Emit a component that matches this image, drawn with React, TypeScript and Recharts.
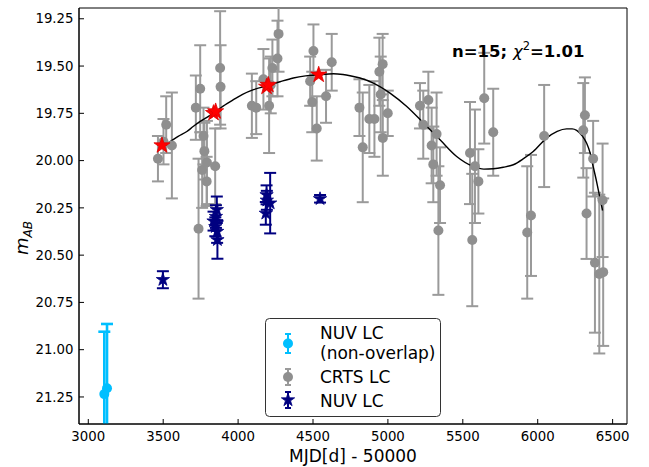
import React from 'react';
import { ComposedChart, Scatter, Line, XAxis, YAxis, ErrorBar, ReferenceArea } from 'recharts';

// CRTS light curve (gray)
const crtsMjd = [3465, 3502, 3520, 3558, 3718, 3747, 3736, 3769, 3775, 3760, 3792, 3790, 3847, 3880, 3883, 4092, 4121, 4169, 4207, 4218, 4229, 4263, 4270, 4481, 4503, 4495, 4525, 4587, 4625, 4810, 4832, 4876, 4910, 4943, 4965, 4952, 4966, 4999, 5214, 5236, 5270, 5292, 5303, 5325, 5348, 5337, 5548, 5581, 5604, 5563, 5643, 5703, 5930, 5955, 6043, 6304, 6315, 6326, 6370, 6382, 6411, 6433, 6437];
const crtsMag = [19.99, 19.90, 19.81, 19.92, 19.72, 19.62, 20.36, 19.87, 19.95, 20.05, 20.01, 20.11, 20.03, 19.51, 19.61, 19.71, 19.72, 19.57, 19.71, 19.60, 19.51, 19.46, 19.33, 19.58, 19.42, 19.69, 19.83, 19.66, 19.48, 19.72, 19.93, 19.78, 19.78, 19.53, 19.49, 19.65, 19.88, 19.75, 19.71, 19.81, 19.68, 19.92, 20.02, 19.86, 20.13, 20.37, 19.96, 20.03, 20.11, 20.42, 19.67, 19.85, 20.38, 20.29, 19.87, 19.84, 19.76, 20.28, 19.99, 20.54, 20.60, 20.21, 20.59];
const crtsErr = [0.12, 0.12, 0.15, 0.28, 0.17, 0.23, 0.37, 0.15, 0.15, 0.2, 0.22, 0.13, 0.2, 0.30, 0.22, 0.17, 0.14, 0.16, 0.25, 0.15, 0.15, 0.2, 0.2, 0.13, 0.14, 0.16, 0.17, 0.14, 0.15, 0.15, 0.29, 0.18, 0.2, 0.18, 0.16, 0.2, 0.2, 0.12, 0.12, 0.18, 0.15, 0.2, 0.2, 0.22, 0.2, 0.34, 0.27, 0.3, 0.17, 0.35, 0.24, 0.23, 0.35, 0.32, 0.27, 0.25, 0.2, 0.24, 0.2, 0.37, 0.42, 0.3, 0.39];

// NUV light curve (navy stars)
const nuvMjd = [3498, 3836, 3848, 3858, 3852, 3860, 3862, 4185, 4190, 4192, 4214, 4547];
const nuvMag = [20.63, 20.32, 20.35, 20.26, 20.296, 20.375, 20.419, 20.279, 20.181, 20.21, 20.225, 20.202];
const nuvErr = [0.045, 0.05, 0.05, 0.07, 0.06, 0.06, 0.1, 0.06, 0.05, 0.05, 0.16, 0.02];

// NUV non-overlap (cyan)
const nonMjd = [3107, 3125];
const nonMag = [21.235, 21.204];
const nonErr = [0.33, 0.34];

// binned points used for the fit (red stars)
const binMjd = [3492, 3836, 3850, 4190, 4202, 4538];
const binMag = [19.92, 19.749, 19.74, 19.61, 19.60, 19.546];

// fitted curve
const fitMjd = [3490, 3547, 3600, 3658, 3700, 3747, 3800, 3836, 3900, 3969, 4030, 4103, 4196, 4280, 4369, 4450, 4538, 4636, 4700, 4747, 4814, 4903, 5014, 5126, 5237, 5348, 5459, 5570, 5640, 5703, 5770, 5837, 5905, 5970, 6059, 6130, 6193, 6230, 6260, 6300, 6326, 6350, 6370, 6390, 6404, 6420, 6433];
const fitMag = [19.924, 19.899, 19.872, 19.846, 19.82, 19.793, 19.767, 19.749, 19.712, 19.678, 19.65, 19.625, 19.604, 19.583, 19.563, 19.552, 19.546, 19.541, 19.545, 19.551, 19.563, 19.59, 19.643, 19.714, 19.801, 19.89, 19.978, 20.031, 20.045, 20.043, 20.035, 20.022, 19.99, 19.952, 19.881, 19.845, 19.832, 19.832, 19.84, 19.872, 19.907, 19.96, 20.031, 20.1, 20.154, 20.215, 20.264];

const xTicks = [3000, 3500, 4000, 4500, 5000, 5500, 6000, 6500];
const yTicks = [19.25, 19.5, 19.75, 20.0, 20.25, 20.5, 20.75, 21.0, 21.25];

const X_DOMAIN: [number, number] = [2938, 6596];
const Y_DOMAIN: [number, number] = [19.193, 21.393];

const crtsData = crtsMjd.map((x, i) => ({ x, y: crtsMag[i], err: crtsErr[i] }));
const nuvData = nuvMjd.map((x, i) => ({ x, y: nuvMag[i], err: nuvErr[i] }));
const nonData = nonMjd.map((x, i) => ({ x, y: nonMag[i], err: nonErr[i] }));
const binData = binMjd.map((x, i) => ({ x, y: binMag[i] }));
const fitData = fitMjd.map((x, i) => ({ x, y: fitMag[i] }));

function starPath(cx: number, cy: number, R: number) {
  const r = R * 0.382;
  let d = '';
  for (let i = 0; i < 10; i++) {
    const ang = -Math.PI / 2 + (i * Math.PI) / 5;
    const rad = i % 2 === 0 ? R : r;
    d += (i === 0 ? 'M' : 'L') + (cx + rad * Math.cos(ang)).toFixed(2) + ',' + (cy + rad * Math.sin(ang)).toFixed(2);
  }
  return d + 'Z';
}

const FONT = '"DejaVu Sans", sans-serif';

// layout (plot area) used for margins and for clipping error bars
const W = 649;
const H = 467;
const M = { top: 8, right: 22, bottom: 0, left: 0 };
const Y_AXIS_W = 79;
const X_AXIS_H = 43;
const PLOT = { x: M.left + Y_AXIS_W, y: M.top, w: W - M.left - Y_AXIS_W - M.right, h: H - M.top - M.bottom - X_AXIS_H };

const GrayDot = (p: any) => <circle cx={p.cx} cy={p.cy} r={5} fill="#8f8f8f" />;
const CyanDot = (p: any) => <circle cx={p.cx} cy={p.cy} r={5} fill="#00bfff" />;
const NavyStar = (p: any) => <path d={starPath(p.cx, p.cy, 7)} fill="#000080" stroke="#000080" strokeWidth={0.8} />;
const RedStar = (p: any) => <path d={starPath(p.cx, p.cy, 8.5)} fill="#ff0000" stroke="#e00000" strokeWidth={0.8} />;

export default function App() {
  return (
    <div style={{ position: 'absolute', left: 0, top: 0, width: W, height: H, background: '#fff' }}>
      <svg width={0} height={0} style={{ position: 'absolute' }}>
        <defs>
          <clipPath id="plotClipArea" clipPathUnits="userSpaceOnUse">
            <rect x={PLOT.x} y={PLOT.y} width={PLOT.w} height={PLOT.h} />
          </clipPath>
        </defs>
      </svg>
      <style>{`.recharts-errorBars, .recharts-errorBar { clip-path: url(#plotClipArea); }`}</style>
      <ComposedChart width={W} height={H} margin={M}>
        <XAxis
          type="number"
          dataKey="x"
          domain={X_DOMAIN}
          allowDataOverflow
          ticks={xTicks}
          height={X_AXIS_H}
          tickSize={-5}
          tickMargin={13}
          stroke="#000"
          tick={{ fill: '#000', fontSize: 13.3, fontFamily: FONT }}
        />
        <YAxis
          type="number"
          dataKey="y"
          domain={Y_DOMAIN}
          allowDataOverflow
          reversed
          ticks={yTicks}
          width={Y_AXIS_W}
          tickSize={-5}
          tickMargin={10.5}
          stroke="#000"
          tickFormatter={(v: number) => v.toFixed(2)}
          tick={{ fill: '#000', fontSize: 13.3, fontFamily: FONT }}
        />
        <Scatter data={nonData} shape={CyanDot} isAnimationActive={false}>
          <ErrorBar dataKey="err" direction="y" width={6} stroke="#00bfff" strokeWidth={2.6} />
        </Scatter>
        <Scatter data={crtsData} shape={GrayDot} isAnimationActive={false}>
          <ErrorBar dataKey="err" direction="y" width={6} stroke="#9a9a9a" strokeWidth={2} />
        </Scatter>
        <Scatter data={nuvData} shape={NavyStar} isAnimationActive={false}>
          <ErrorBar dataKey="err" direction="y" width={6} stroke="#000080" strokeWidth={2} />
        </Scatter>
        <Line data={fitData} dataKey="y" type="monotone" dot={false} activeDot={false} stroke="#000" strokeWidth={1.4} isAnimationActive={false} />
        <Scatter data={binData} shape={RedStar} isAnimationActive={false} />
        <ReferenceArea x1={X_DOMAIN[0]} x2={X_DOMAIN[1]} y1={Y_DOMAIN[0]} y2={Y_DOMAIN[1]} fill="none" stroke="#000" strokeWidth={1} ifOverflow="visible" />
      </ComposedChart>
      <svg width={W} height={H} style={{ position: 'absolute', left: 0, top: 0, pointerEvents: 'none' }}>
        <text x={353} y={462} textAnchor="middle" fontFamily={FONT} fontSize={17} fill="#000">MJD[d] - 50000</text>
        <text transform="translate(28,238) rotate(-90)" textAnchor="middle" fontFamily={FONT} fontSize={18} fill="#000">
          <tspan fontStyle="italic">m</tspan>
          <tspan fontStyle="italic" fontSize={12} dy={4}>AB</tspan>
        </text>
        <text x={452} y={57} fontFamily={FONT} fontSize={16.5} fill="#000">
          <tspan fontWeight="bold">n=15; </tspan>
          <tspan fontStyle="italic">χ</tspan>
          <tspan fontSize={11.5} dy={-7}>2</tspan>
          <tspan fontWeight="bold" dy={7}>=1.01</tspan>
        </text>
        <g>
          <rect x={265.5} y={318.5} width={175} height={98} rx={4} fill="#fff" stroke="#333" strokeWidth={1} />
          <line x1={288} y1={334} x2={288} y2={353} stroke="#00bfff" strokeWidth={2} />
          <line x1={285} y1={334} x2={291} y2={334} stroke="#00bfff" strokeWidth={2} />
          <line x1={285} y1={353} x2={291} y2={353} stroke="#00bfff" strokeWidth={2} />
          <circle cx={288} cy={343.5} r={5} fill="#00bfff" />
          <text x={320} y={339} fontFamily={FONT} fontSize={17} fill="#000">NUV LC</text>
          <text x={320} y={359} fontFamily={FONT} fontSize={17} fill="#000">(non-overlap)</text>
          <line x1={288} y1={369} x2={288} y2={385} stroke="#9a9a9a" strokeWidth={2} />
          <line x1={285} y1={369} x2={291} y2={369} stroke="#9a9a9a" strokeWidth={2} />
          <line x1={285} y1={385} x2={291} y2={385} stroke="#9a9a9a" strokeWidth={2} />
          <circle cx={288} cy={377} r={5} fill="#8f8f8f" />
          <text x={320} y={383} fontFamily={FONT} fontSize={17} fill="#000">CRTS LC</text>
          <line x1={288} y1={392} x2={288} y2={408} stroke="#000080" strokeWidth={2} />
          <line x1={285} y1={392} x2={291} y2={392} stroke="#000080" strokeWidth={2} />
          <line x1={285} y1={408} x2={291} y2={408} stroke="#000080" strokeWidth={2} />
          <path d={starPath(288, 400, 7)} fill="#000080" stroke="#000080" strokeWidth={0.8} />
          <text x={320} y={407} fontFamily={FONT} fontSize={17} fill="#000">NUV LC</text>
        </g>
      </svg>
    </div>
  );
}
